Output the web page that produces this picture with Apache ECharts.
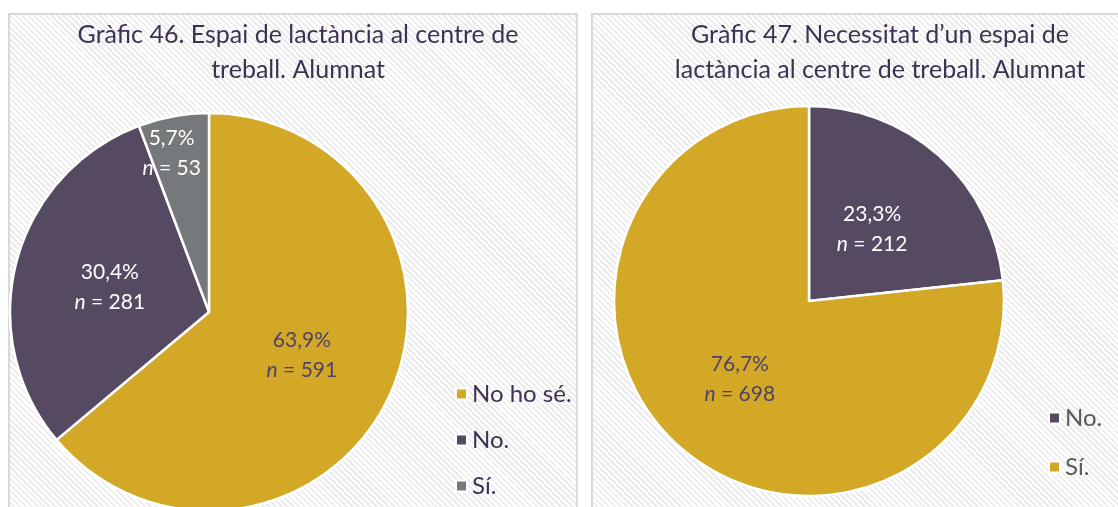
<!DOCTYPE html>
<html>
<head>
<meta charset="utf-8">
<script src="https://cdn.jsdelivr.net/npm/echarts@6/dist/echarts.min.js"></script>
<style>
  html, body { margin: 0; padding: 0; width: 1118px; height: 507px; overflow: hidden; background: #fff; }
  .panel {
    position: absolute; box-sizing: border-box;
    border: 2px solid #d9d9d9; border-bottom: none;
    background: repeating-linear-gradient(45deg, #ffffff 0px, #ffffff 2.4px, #ebebeb 2.4px, #ebebeb 4.2px);
  }
  .chart { position: absolute; }
</style>
</head>
<body>
<div class="panel" style="left:8px; top:13px; width:570px; height:500px;"></div>
<div class="panel" style="left:591px; top:13px; width:540px; height:500px;"></div>
<div id="c46" class="chart" style="left:8px; top:13px; width:570px; height:494px;"></div>
<div id="c47" class="chart" style="left:591px; top:13px; width:527px; height:494px;"></div>
<script>
// Gràfic 46: espai de lactància al centre de treball (alumnat)
const lactCategories = ['No ho sé.', 'No.', 'Sí.'];
const lactCounts = [591, 281, 53];
const lactColors = ['#D3A827', '#564A63', '#75797B'];

// Gràfic 47: necessitat d'un espai de lactància (alumnat)
const needCategories = ['No.', 'Sí.'];
const needCounts = [212, 698];
const needColors = ['#564A63', '#D3A827'];

const FONT = 'Lato, "Open Sans", sans-serif';
const TITLE_COLOR = '#3F3151';

function labelText(p) {
  const pct = p.percent.toFixed(1).replace('.', ',') + '%';
  return '{p|' + pct + '}\n{i|n}{v| = ' + p.value + '}';
}

function labelRich(color) {
  const base = { fontFamily: FONT, fontSize: 21, color: color, lineHeight: 30 };
  return {
    p: Object.assign({}, base),
    i: Object.assign({}, base, { fontStyle: 'italic' }),
    v: Object.assign({}, base)
  };
}

function buildData(names, counts, colors, labelColors, offsets) {
  return names.map((name, i) => ({
    name: name,
    value: counts[i],
    itemStyle: { color: colors[i] },
    label: {
      color: labelColors[i],
      rich: labelRich(labelColors[i]),
      offset: offsets[i] || [0, 0]
    }
  }));
}

function makeOption(cfg) {
  return {
    animation: false,
    title: {
      text: cfg.title,
      left: cfg.titleX,
      top: 4,
      padding: 0,
      textAlign: 'center',
      textStyle: {
        fontFamily: FONT, fontSize: 25, fontWeight: 'normal',
        color: TITLE_COLOR, lineHeight: 35
      }
    },
    legend: {
      orient: 'vertical',
      left: cfg.legendX,
      top: cfg.legendY,
      padding: 0,
      itemWidth: 11,
      itemHeight: 11,
      itemGap: cfg.legendGap,
      icon: 'rect',
      data: cfg.names,
      textStyle: { fontFamily: FONT, fontSize: 24, color: cfg.legendColor, lineHeight: 24 }
    },
    series: [{
      type: 'pie',
      center: cfg.center,
      radius: cfg.radius,
      startAngle: 90,
      clockwise: true,
      percentPrecision: 1,
      silent: true,
      itemStyle: { borderColor: '#ffffff', borderWidth: 2.5 },
      label: {
        show: true,
        position: 'inside',
        formatter: labelText
      },
      labelLine: { show: false },
      data: buildData(cfg.names, cfg.counts, cfg.colors, cfg.labelColors, cfg.offsets)
    }]
  };
}

const chart46 = echarts.init(document.getElementById('c46'), null, { renderer: 'canvas' });
chart46.setOption(makeOption({
  title: 'Gràfic 46. Espai de lactància al centre de\ntreball. Alumnat',
  titleX: 290,
  names: lactCategories,
  counts: lactCounts,
  colors: lactColors,
  labelColors: ['#4F4266', '#ffffff', '#ffffff'],
  offsets: [[0, 0], [0, 1], [-19, -58]],
  center: [201, 299],
  radius: 199,
  legendX: 447,
  legendY: 369,
  legendGap: 22,
  legendColor: TITLE_COLOR
}));

const chart47 = echarts.init(document.getElementById('c47'), null, { renderer: 'canvas' });
chart47.setOption(makeOption({
  title: 'Gràfic 47. Necessitat d\u2019un espai de\nlactància al centre de treball. Alumnat',
  titleX: 289,
  names: needCategories,
  counts: needCounts,
  colors: needColors,
  labelColors: ['#ffffff', '#4F4266'],
  offsets: [[-4, 3], [-2, 3]],
  center: [218, 288],
  radius: 195,
  legendX: 457,
  legendY: 393,
  legendGap: 25,
  legendColor: '#595959'
}));
</script>
</body>
</html>
